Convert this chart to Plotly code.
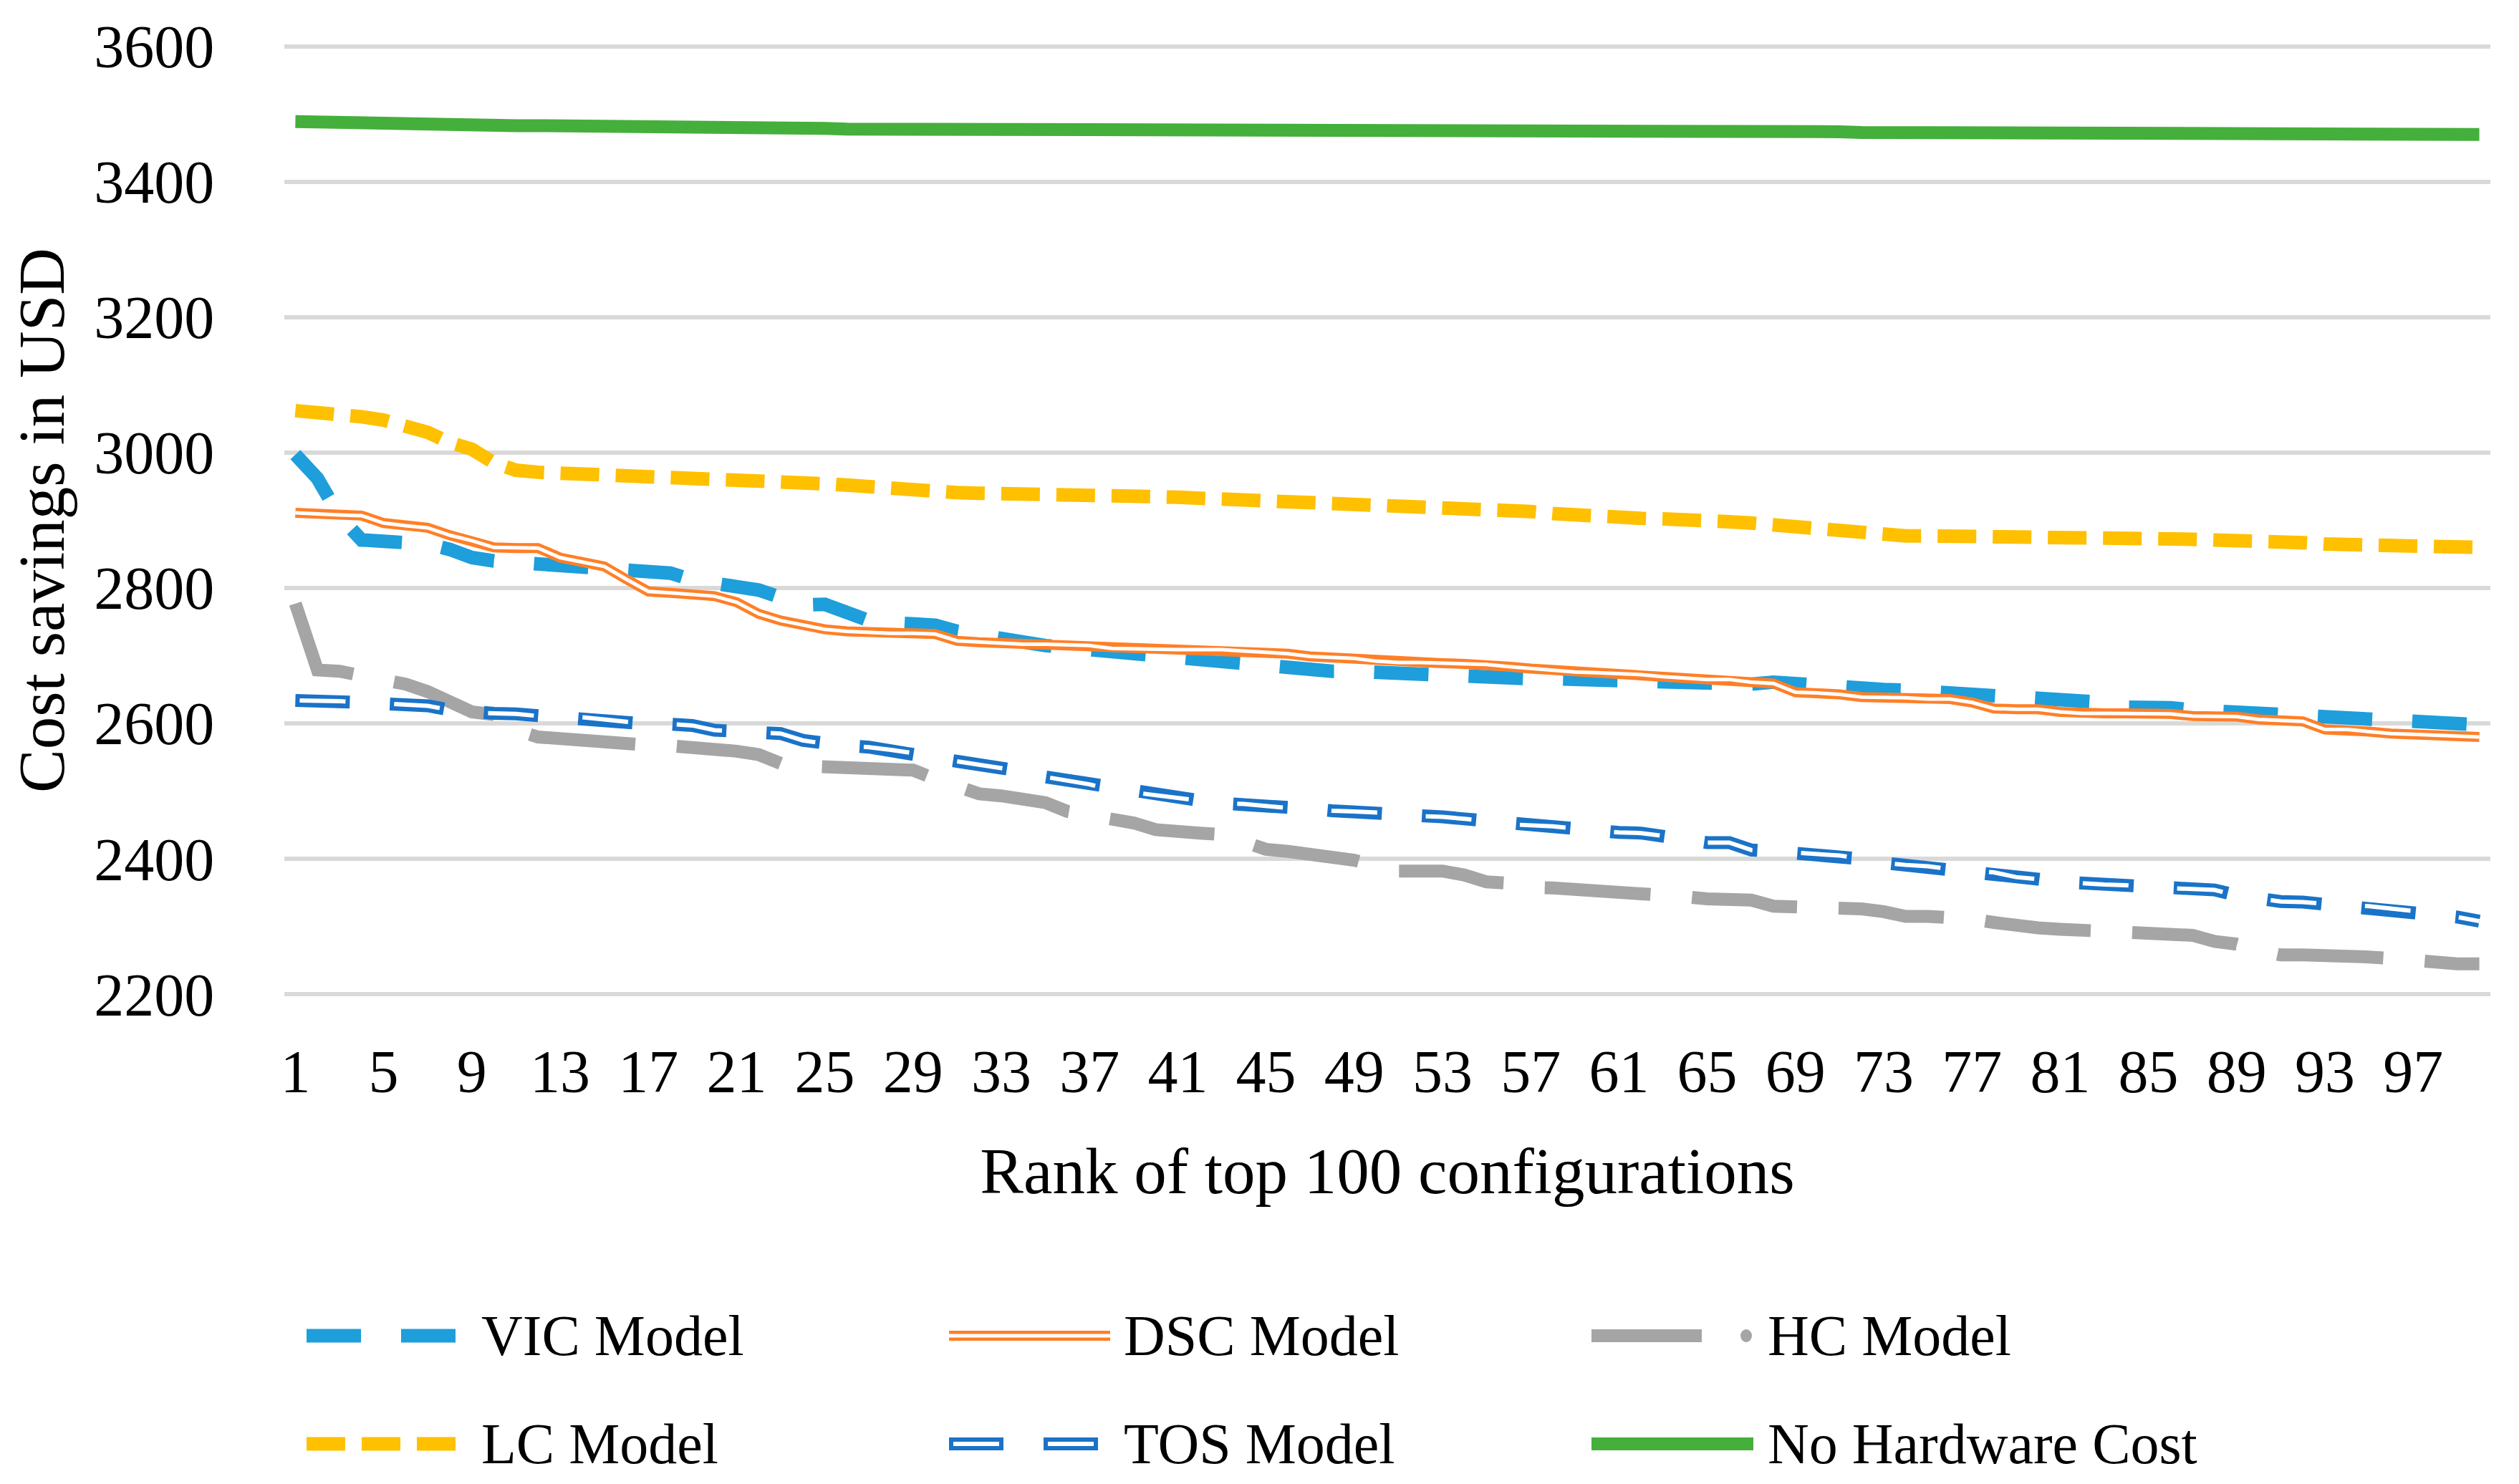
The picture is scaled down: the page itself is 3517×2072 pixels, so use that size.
import plotly.graph_objects as go

# ---------------- data ----------------
ranks = list(range(1, 101))

vic_model = [2997, 2962, 2906, 2871, 2869, 2867, 2865, 2857, 2845, 2840,
             2838, 2835, 2832, 2829, 2830, 2829, 2825, 2822, 2812, 2805,
             2802, 2797, 2785, 2775, 2776, 2764, 2752, 2749, 2748, 2745,
             2736, 2730, 2727, 2720, 2715, 2712, 2709, 2707, 2705, 2702,
             2700, 2695, 2692, 2689, 2683, 2681, 2679, 2677, 2677, 2675,
             2673, 2671, 2670, 2669, 2668, 2667, 2666, 2666, 2665, 2665,
             2664, 2662, 2661, 2660, 2659, 2658, 2658, 2661, 2658, 2654,
             2653, 2651, 2650, 2649, 2647, 2645, 2643, 2640, 2639, 2638,
             2637, 2635, 2631, 2624, 2626, 2623, 2620, 2618, 2617, 2614,
             2611, 2609, 2608, 2608, 2608, 2604, 2602, 2601, 2600, 2598]

dsc_model = [2911, 2909, 2908, 2907, 2896, 2892, 2889, 2878, 2870, 2860,
             2859, 2859, 2845, 2838, 2832, 2813, 2795, 2793, 2791, 2788,
             2779, 2762, 2752, 2745, 2739, 2736, 2734, 2733, 2733, 2732,
             2722, 2720, 2719, 2717, 2717, 2716, 2715, 2711, 2710, 2709,
             2709, 2709, 2709, 2707, 2705, 2703, 2699, 2697, 2696, 2692,
             2690, 2690, 2689, 2688, 2687, 2684, 2681, 2679, 2676, 2675,
             2674, 2672, 2669, 2667, 2665, 2665, 2661, 2659, 2646, 2645,
             2643, 2639, 2639, 2638, 2636, 2636, 2631, 2622, 2621, 2621,
             2617, 2615, 2615, 2615, 2615, 2614, 2611, 2611, 2610, 2606,
             2604, 2603, 2591, 2591, 2588, 2585, 2584, 2583, 2582, 2580]

hc_model = [2777, 2679, 2677, 2671, 2665, 2658, 2647, 2631, 2617, 2613,
            2590, 2580, 2577, 2575, 2574, 2570, 2568, 2567, 2565, 2563,
            2559, 2554, 2541, 2537, 2536, 2536, 2535, 2533, 2531, 2518,
            2505, 2496, 2493, 2489, 2483, 2470, 2464, 2461, 2453, 2443,
            2439, 2438, 2436, 2424, 2414, 2411, 2407, 2402, 2398, 2389,
            2382, 2382, 2382, 2376, 2366, 2364, 2358, 2357, 2355, 2355,
            2354, 2352, 2350, 2344, 2341, 2341, 2339, 2330, 2330, 2327,
            2326, 2326, 2322, 2315, 2315, 2315, 2311, 2306, 2300, 2298,
            2296, 2295, 2294, 2290, 2288, 2288, 2287, 2278, 2274, 2265,
            2258, 2258, 2258, 2257, 2255, 2253, 2249, 2246, 2245, 2245]

lc_model = [3062, 3060, 3058, 3053, 3048, 3040, 3030, 3015, 3005, 2985,
            2974, 2971, 2970, 2969, 2968, 2967, 2966, 2965, 2964, 2963,
            2961, 2959, 2957, 2956, 2954, 2952, 2949, 2948, 2947, 2943,
            2941, 2940, 2940, 2939, 2938, 2937, 2936, 2936, 2935, 2935,
            2934, 2933, 2932, 2931, 2928, 2925, 2924, 2922, 2921, 2920,
            2919, 2918, 2918, 2916, 2915, 2915, 2913, 2910, 2907, 2905,
            2904, 2903, 2902, 2899, 2898, 2898, 2896, 2893, 2890, 2886,
            2884, 2882, 2879, 2877, 2877, 2877, 2877, 2877, 2876, 2875,
            2875, 2875, 2875, 2874, 2873, 2873, 2872, 2871, 2871, 2870,
            2869, 2867, 2865, 2865, 2865, 2864, 2863, 2862, 2861, 2860]

tos_model = [2634, 2634, 2633, 2631, 2629, 2628, 2626, 2620, 2616, 2615,
             2614, 2611, 2610, 2609, 2606, 2602, 2599, 2599, 2597, 2590,
             2588, 2586, 2585, 2575, 2570, 2567, 2565, 2561, 2556, 2549,
             2544, 2540, 2535, 2529, 2521, 2516, 2510, 2502, 2498, 2494,
             2490, 2486, 2482, 2481, 2478, 2475, 2474, 2471, 2470, 2468,
             2467, 2463, 2462, 2459, 2456, 2451, 2450, 2448, 2445, 2441,
             2439, 2438, 2434, 2427, 2424, 2424, 2413, 2411, 2409, 2407,
             2405, 2400, 2394, 2391, 2389, 2385, 2382, 2380, 2373, 2370,
             2366, 2364, 2362, 2361, 2358, 2357, 2356, 2354, 2346, 2341,
             2337, 2336, 2333, 2331, 2330, 2327, 2323, 2317, 2314, 2308]

no_hardware_cost = [3489, 3488, 3487, 3487, 3486, 3486, 3485, 3485, 3484, 3484,
                    3483, 3483, 3483, 3482, 3482, 3482, 3481, 3481, 3481, 3480,
                    3480, 3480, 3479, 3479, 3479, 3478, 3478, 3478, 3478, 3478,
                    3478, 3478, 3477, 3477, 3477, 3477, 3477, 3477, 3477, 3476,
                    3476, 3476, 3476, 3476, 3476, 3476, 3476, 3476, 3476, 3476,
                    3476, 3476, 3475, 3475, 3475, 3475, 3475, 3475, 3475, 3475,
                    3475, 3475, 3474, 3474, 3474, 3474, 3474, 3474, 3474, 3474,
                    3474, 3473, 3473, 3473, 3473, 3473, 3473, 3473, 3472, 3472,
                    3472, 3472, 3472, 3472, 3472, 3471, 3471, 3471, 3471, 3471,
                    3471, 3471, 3470, 3470, 3470, 3470, 3470, 3470, 3470, 3470]

series_names = ["VIC Model", "DSC Model", "HC Model", "LC Model", "TOS Model", "No Hardware Cost"]
x_tick_vals = list(range(1, 101, 4))
x_tick_text = [str(v) for v in x_tick_vals]
y_tick_vals = [2200, 2400, 2600, 2800, 3000, 3200, 3400, 3600]
x_title = "Rank of top 100 configurations"
y_title = "Cost savings in USD"

# ---------------- styles ----------------
FONT = "Liberation Serif"
C_VIC = "#1E9EDA"
C_DSC = "#FF7F27"
C_HC = "#A5A5A5"
C_LC = "#FFC000"
C_TOS = "#1A73C8"
C_NHC = "#45AF3B"

DASH_VIC = "76px,56px"
DASH_TOS = "76px,56px"
DASH_TOS_IN = "0px,6px,64px,62px"
DASH_HC = "148px,58px"
DASH_LC = "54px,23px"

# page body has an 8px margin -> figure is 16px smaller than the window
OFF = 8
W, H = 3517 - 2 * OFF, 2072 - 2 * OFF
ML, MR, MT, MB = 389, 32, 54, 673
PW = W - ML - MR
PH = H - MT - MB


def px_x(px):
    """screen px (window coords) -> paper x"""
    return (px - OFF - ML) / PW


def px_y(py):
    """screen px (window coords) -> paper y"""
    return (H - MB - (py - OFF)) / PH


fig = go.Figure()


def add_line(y, color, width, dash="solid"):
    fig.add_trace(go.Scatter(x=ranks, y=y, mode="lines", showlegend=False,
                             hoverinfo="skip",
                             line=dict(color=color, width=width, dash=dash)))


add_line(vic_model, C_VIC, 19, DASH_VIC)
add_line(dsc_model, C_DSC, 14)
add_line(dsc_model, "white", 5)
add_line(hc_model, C_HC, 18, DASH_HC)
add_line(lc_model, C_LC, 19, DASH_LC)
add_line(tos_model, C_TOS, 18, DASH_TOS)
add_line(tos_model, "white", 6, DASH_TOS_IN)
add_line(no_hardware_cost, C_NHC, 18)

# ---------------- custom legend (samples + text) ----------------
shapes = []
annotations = []
ROW1, ROW2 = 1865, 2016
legend_items = [
    (series_names[0], 428, 636, 670, ROW1),
    (series_names[1], 1325, 1550, 1567, ROW1),
    (series_names[2], 2222, 2448, 2466, ROW1),
    (series_names[3], 428, 636, 670, ROW2),
    (series_names[4], 1325, 1550, 1567, ROW2),
    (series_names[5], 2222, 2448, 2466, ROW2),
]
styles = {
    series_names[0]: [(C_VIC, 19, DASH_VIC)],
    series_names[1]: [(C_DSC, 14, "solid"), ("white", 5, "solid")],
    series_names[2]: [(C_HC, 18, "154px,61px,1px,400px")],
    series_names[3]: [(C_LC, 19, DASH_LC)],
    series_names[4]: [(C_TOS, 18, DASH_TOS), ("white", 6, DASH_TOS_IN)],
    series_names[5]: [(C_NHC, 18, "solid")],
}
for name, x0, x1, tx, ry in legend_items:
    for col, wd, ds in styles[name]:
        shapes.append(dict(type="line", xref="paper", yref="paper",
                           x0=px_x(x0), x1=px_x(x1), y0=px_y(ry), y1=px_y(ry),
                           line=dict(color=col, width=wd, dash=ds)))
    if name == series_names[2]:
        shapes.append(dict(type="circle", xref="paper", yref="paper",
                           x0=px_x(2430), x1=px_x(2446), y0=px_y(ry + 9), y1=px_y(ry - 9),
                           fillcolor=C_HC, line=dict(width=0)))
    annotations.append(dict(text=name, xref="paper", yref="paper",
                            x=px_x(tx), y=px_y(ry), xanchor="left", yanchor="middle",
                            showarrow=False,
                            font=dict(family=FONT, size=80, color="black")))

fig.update_layout(
    width=W, height=H,
    template="none",
    paper_bgcolor="white", plot_bgcolor="white",
    margin=dict(l=ML, r=MR, t=MT, b=MB, autoexpand=False),
    font=dict(family=FONT, color="black", size=84),
    showlegend=False,
    shapes=shapes,
    annotations=annotations,
    xaxis=dict(range=[0.5, 100.5], tickmode="array", tickvals=x_tick_vals,
               ticktext=x_tick_text, showgrid=False, zeroline=False, showline=False,
               ticks="outside", ticklen=32, tickcolor="rgba(0,0,0,0)",
               tickfont=dict(family=FONT, size=84, color="black"),
               title=dict(text=x_title, standoff=60,
                          font=dict(family=FONT, size=91, color="black")),
               automargin=False),
    yaxis=dict(range=[2197, 3603], tickmode="array", tickvals=y_tick_vals,
               showgrid=True, gridcolor="#D9D9D9", gridwidth=6, zeroline=False,
               showline=False, ticks="outside", ticklen=80,
               tickcolor="rgba(0,0,0,0)",
               tickfont=dict(family=FONT, size=84, color="black"),
               title=dict(text=y_title, standoff=14,
                          font=dict(family=FONT, size=91, color="black")),
               automargin=False),
)

fig.write_html("out.html")
